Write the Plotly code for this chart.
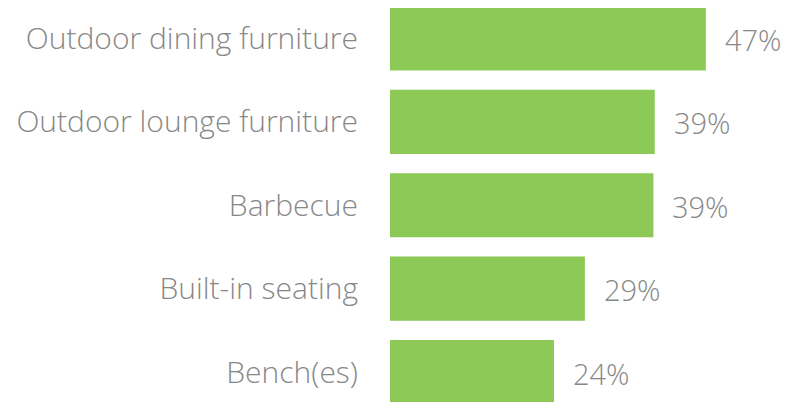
import plotly.graph_objects as go

categories = [
    "Outdoor dining furniture",
    "Outdoor lounge furniture",
    "Barbecue",
    "Built-in seating",
    "Bench(es)",
]
values = [47.0, 39.4, 39.2, 29.0, 24.4]

BAR_GREEN = "#8cc956"
TEXT_GRAY = "#888888"
FONT = "Open Sans"

fig = go.Figure()

fig.add_trace(go.Bar(
    x=values,
    y=categories,
    orientation="h",
    width=0.77,
    marker=dict(color=BAR_GREEN, line=dict(width=0)),
    hoverinfo="skip",
))

# Prozentwerte rechts neben den Balken
for cat, val in zip(categories, values):
    fig.add_annotation(
        x=val, y=cat,
        text=f"{val:.0f}%",
        showarrow=False,
        xanchor="left",
        xshift=17,
        yshift=-1,
        font=dict(family=FONT, size=29, color=TEXT_GRAY, weight=300),
    )

# Seite hat 8px Body-Rand -> Ränder entsprechend kleiner
fig.update_layout(
    width=802,
    height=402,
    showlegend=False,
    plot_bgcolor="white",
    paper_bgcolor="white",
    margin=dict(l=382, r=0, t=0, b=0),
    xaxis=dict(
        range=[0, 62.5],
        visible=False,
    ),
    yaxis=dict(
        type="category",
        categoryorder="array",
        categoryarray=categories,
        range=[4.455, -0.365],
        showgrid=False,
        zeroline=False,
        showline=False,
        ticks="",
        ticklabelstandoff=31,
        tickfont=dict(family=FONT, size=30, color=TEXT_GRAY, weight=300),
    ),
)

fig.write_html("out.html")
